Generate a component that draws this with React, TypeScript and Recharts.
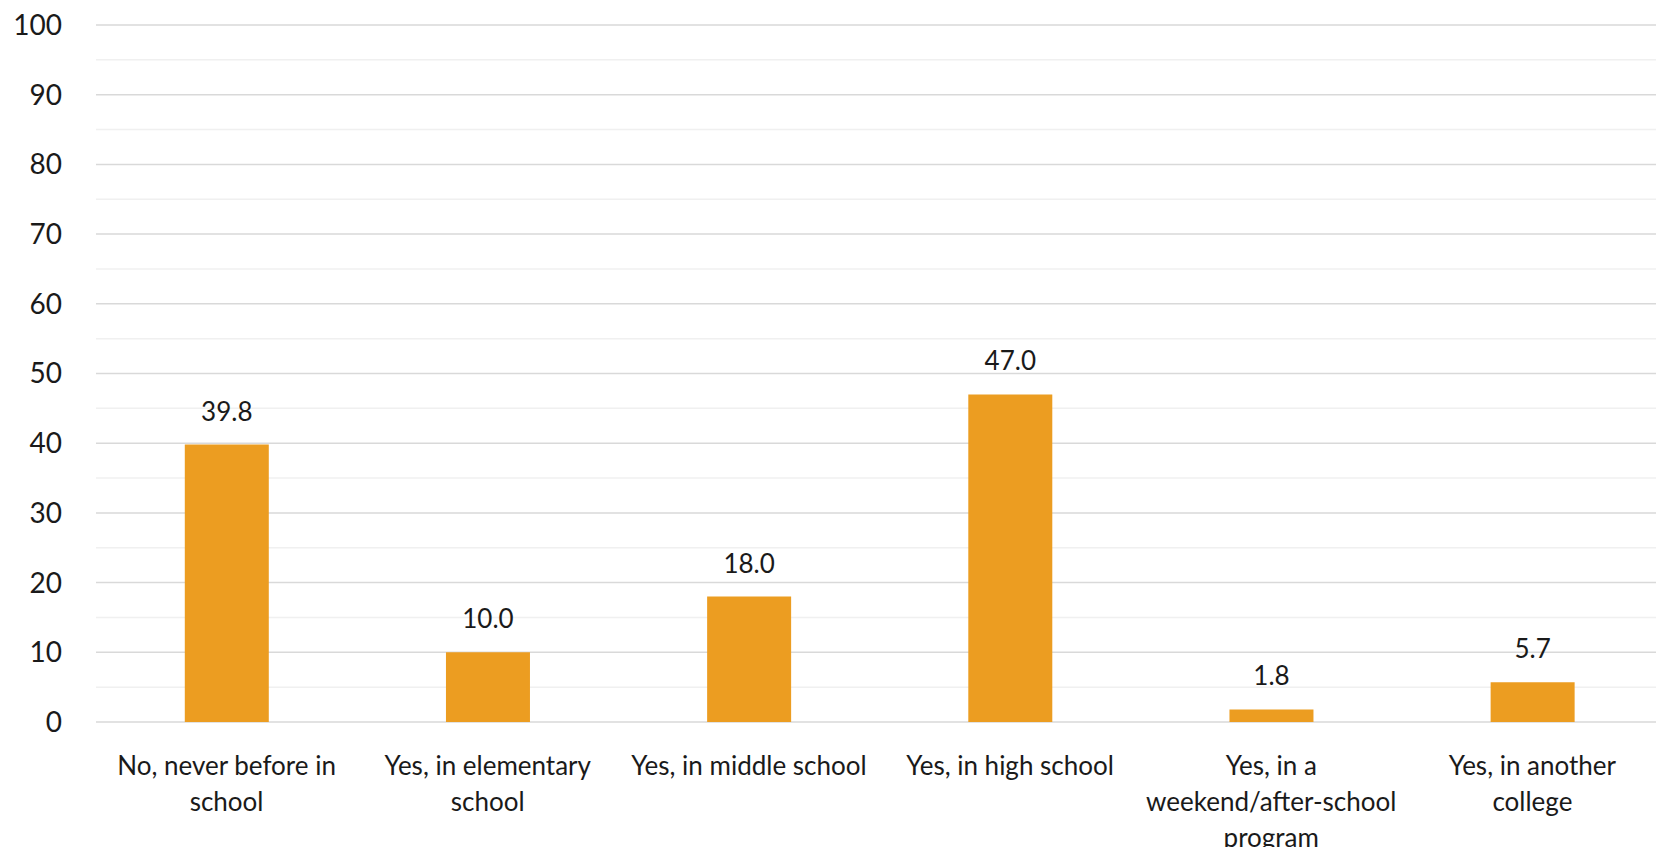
import { BarChart, Bar, XAxis, YAxis, CartesianGrid, LabelList } from "recharts";

const categories = [
  "No, never before in\nschool",
  "Yes, in elementary\nschool",
  "Yes, in middle school",
  "Yes, in high school",
  "Yes, in a\nweekend/after-school\nprogram",
  "Yes, in another\ncollege",
];
const values = [39.8, 10.0, 18.0, 47.0, 1.8, 5.7];
const yTicks = [0, 10, 20, 30, 40, 50, 60, 70, 80, 90, 100];
const minorLines = [5, 15, 25, 35, 45, 55, 65, 75, 85, 95];

const data = categories.map((name, i) => ({ name, value: values[i] }));

const FONT = "Lato, 'Noto Sans', sans-serif";

const CategoryTick = (props: any) => {
  const { x, y, payload } = props;
  const lines = String(payload.value).split("\n");
  return (
    <text
      x={x}
      y={y + 45}
      textAnchor="middle"
      fill="#1a1a1a"
      style={{ fontFamily: FONT, fontSize: 26 }}
    >
      {lines.map((l, i) => (
        <tspan key={i} x={x} dy={i === 0 ? 0 : 36}>
          {l}
        </tspan>
      ))}
    </text>
  );
};

const App = () => {
  return (
    <div
      style={{
        position: "absolute",
        left: 0,
        top: 0,
        width: 1656,
        height: 847,
        overflow: "hidden",
        background: "#fff",
      }}
    >
      <BarChart
        width={1663}
        height={847}
        data={data}
        margin={{ top: 25, right: 0, left: 0, bottom: 0 }}
        barCategoryGap="34%"
      >
        <CartesianGrid
          vertical={false}
          horizontalValues={minorLines}
          stroke="#f0f0f0"
          strokeWidth={1.5}
        />
        <CartesianGrid
          vertical={false}
          horizontalValues={yTicks}
          stroke="#d9d9d9"
          strokeWidth={1.5}
        />
        <XAxis
          dataKey="name"
          height={125}
          axisLine={false}
          tickLine={false}
          interval={0}
          tick={<CategoryTick />}
        />
        <YAxis
          width={96}
          domain={[0, 100]}
          ticks={yTicks}
          axisLine={false}
          tickLine={false}
          tickMargin={28}
          tick={{ fill: "#1a1a1a", fontSize: 28, fontFamily: FONT }}
        />
        <Bar dataKey="value" fill="#EC9D21" isAnimationActive={false}>
          <LabelList
            dataKey="value"
            position="top"
            offset={24}
            formatter={(v: any) => Number(v).toFixed(1)}
            style={{ fill: "#1a1a1a", fontSize: 26, fontFamily: FONT }}
          />
        </Bar>
      </BarChart>
    </div>
  );
};

export default App;
